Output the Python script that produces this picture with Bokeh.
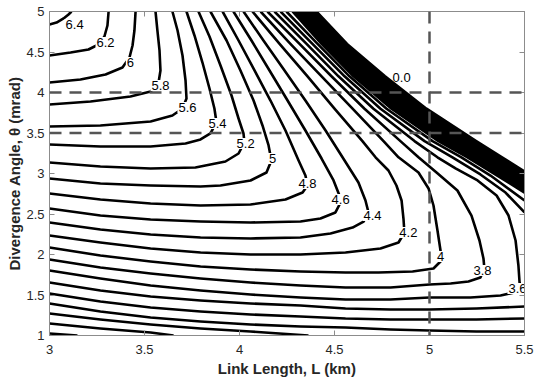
from bokeh.plotting import figure
from bokeh.models import Range1d, FixedTicker, LinearAxis, Span
from bokeh.embed import file_html
from bokeh.resources import INLINE
from bokeh.core.properties import value

# ---------------- data ----------------
x_ticks = [3, 3.5, 4, 4.5, 5, 5.5]
x_tick_labels = ["3", "3.5", "4", "4.5", "5", "5.5"]
y_ticks = [1, 1.5, 2, 2.5, 3, 3.5, 4, 4.5, 5]
y_tick_labels = ["1", "1.5", "2", "2.5", "3", "3.5", "4", "4.5", "5"]

ref_L = [5.0]
ref_theta = [4.0, 3.5]

# contour lines (L in km, theta in mrad)
c64_L = [3.0, 3.037, 3.074, 3.1, 3.116]
c64_T = [4.840, 4.864, 4.914, 4.963, 5.0]
c62_L = [3.0, 3.111, 3.205, 3.258, 3.289, 3.305, 3.311]
c62_T = [4.457, 4.494, 4.531, 4.593, 4.691, 4.827, 5.0]
c60_L = [3.0, 3.163, 3.295, 3.384, 3.421, 3.437, 3.447, 3.453]
c60_T = [4.123, 4.160, 4.222, 4.309, 4.432, 4.580, 4.765, 5.0]
c58_L = [3.0, 3.216, 3.426, 3.532, 3.574, 3.584, 3.579, 3.568, 3.558]
c58_T = [3.852, 3.889, 3.951, 4.012, 4.123, 4.272, 4.519, 4.765, 5.0]
c56_L = [3.0, 3.268, 3.532, 3.647, 3.7, 3.721, 3.716, 3.7, 3.674, 3.647]
c56_T = [3.580, 3.593, 3.642, 3.716, 3.802, 3.926, 4.148, 4.457, 4.765, 5.0]
c54_L = [3.0, 3.268, 3.532, 3.716, 3.795, 3.847, 3.879, 3.868, 3.842, 3.805, 3.763, 3.721]
c54_T = [3.358, 3.333, 3.333, 3.370, 3.420, 3.494, 3.630, 3.802, 4.049, 4.370, 4.704, 5.0]
c52_L = [3.0, 3.268, 3.532, 3.768, 3.926, 3.995, 4.026, 4.021, 3.995, 3.958, 3.9, 3.842, 3.784]
c52_T = [3.136, 3.086, 3.062, 3.074, 3.148, 3.247, 3.383, 3.494, 3.679, 3.963, 4.333, 4.691, 5.0]
c50_L = [3.0, 3.268, 3.532, 3.795, 3.9, 4.058, 4.142, 4.168, 4.153, 4.121, 4.074, 4.005, 3.932, 3.847]
c50_T = [2.938, 2.877, 2.852, 2.840, 2.852, 2.914, 3.012, 3.160, 3.346, 3.593, 3.901, 4.272, 4.642, 5.0]
c48_L = [3.0, 3.268, 3.532, 3.795, 4.058, 4.242, 4.332, 4.358, 4.347, 4.311, 4.242, 4.163, 4.079, 3.995, 3.911]
c48_T = [2.753, 2.679, 2.630, 2.605, 2.617, 2.679, 2.765, 2.852, 2.975, 3.160, 3.531, 3.901, 4.272, 4.642, 5.0]
c46_L = [3.0, 3.268, 3.532, 3.795, 4.058, 4.321, 4.426, 4.505, 4.532, 4.526, 4.495, 4.432, 4.347, 4.253, 4.158, 4.063, 3.968]
c46_T = [2.568, 2.481, 2.432, 2.407, 2.395, 2.407, 2.444, 2.519, 2.642, 2.728, 2.914, 3.185, 3.531, 3.901, 4.272, 4.642, 5.0]
c44_L = [3.0, 3.268, 3.532, 3.795, 4.058, 4.321, 4.479, 4.595, 4.653, 4.679, 4.663, 4.626, 4.553, 4.453, 4.347, 4.237, 4.126, 4.021]
c44_T = [2.395, 2.309, 2.247, 2.210, 2.198, 2.210, 2.259, 2.333, 2.407, 2.519, 2.667, 2.889, 3.160, 3.531, 3.901, 4.272, 4.642, 5.0]
c42_L = [3.0, 3.268, 3.532, 3.795, 4.058, 4.321, 4.558, 4.742, 4.837, 4.868, 4.863, 4.853, 4.826, 4.784, 4.716, 4.647, 4.5, 4.358, 4.211, 4.068]
c42_T = [2.235, 2.148, 2.074, 2.025, 2.0, 2.0, 2.025, 2.074, 2.148, 2.272, 2.444, 2.667, 2.852, 3.037, 3.2, 3.4, 3.8, 4.2, 4.6, 5.0]
c40_L = [3.0, 3.268, 3.532, 3.795, 4.058, 4.321, 4.558, 4.732, 4.911, 5.021, 5.063, 5.058, 5.042, 5.021, 4.995, 4.942, 4.837, 4.758, 4.595, 4.432, 4.268, 4.111]
c40_T = [2.086, 1.988, 1.914, 1.852, 1.815, 1.790, 1.778, 1.778, 1.790, 1.827, 1.926, 2.049, 2.296, 2.605, 2.815, 3.012, 3.2, 3.4, 3.8, 4.2, 4.6, 5.0]
c38_L = [3.0, 3.268, 3.532, 3.795, 4.058, 4.321, 4.558, 4.795, 5.0, 5.111, 5.205, 5.268, 5.289, 5.284, 5.263, 5.221, 5.147, 5.037, 4.942, 4.847, 4.658, 4.484, 4.316, 4.147]
c38_T = [1.938, 1.840, 1.765, 1.704, 1.654, 1.617, 1.593, 1.593, 1.630, 1.642, 1.667, 1.716, 1.827, 1.951, 2.173, 2.481, 2.790, 3.012, 3.2, 3.4, 3.8, 4.2, 4.6, 5.0]
c36_L = [3.0, 3.268, 3.532, 3.795, 4.058, 4.321, 4.558, 4.795, 5.0, 5.216, 5.374, 5.447, 5.479, 5.474, 5.468, 5.453, 5.416, 5.353, 5.253, 5.137, 5.042, 4.921, 4.705, 4.521, 4.353, 4.184]
c36_T = [1.802, 1.704, 1.617, 1.556, 1.506, 1.469, 1.444, 1.444, 1.469, 1.469, 1.494, 1.531, 1.580, 1.654, 1.864, 2.173, 2.481, 2.728, 2.914, 3.062, 3.2, 3.4, 3.8, 4.2, 4.6, 5.0]

lowgrid_L = [3.0, 3.268, 3.532, 3.795, 4.058, 4.321, 4.558, 4.795, 5.0, 5.247, 5.5]
c34lo_T = [1.654, 1.556, 1.481, 1.432, 1.395, 1.370, 1.333, 1.321, 1.321, 1.333, 1.358]
c32lo_T = [1.519, 1.420, 1.346, 1.296, 1.259, 1.235, 1.210, 1.198, 1.198, 1.198, 1.210]
c30lo_T = [1.395, 1.296, 1.222, 1.173, 1.136, 1.111, 1.099, 1.074, 1.062, 1.049, 1.049]
c28lo_L = [3.0, 3.268, 3.532, 3.795, 4.058, 4.363]
c28lo_T = [1.272, 1.198, 1.136, 1.086, 1.049, 1.0]
c26lo_L = [3.0, 3.268, 3.532, 3.653]
c26lo_T = [1.148, 1.086, 1.037, 1.0]
c24lo_L = [3.0, 3.147]
c24lo_T = [1.025, 1.0]

c34up_L = [4.216, 4.384, 4.553, 4.742, 4.974, 5.121, 5.268, 5.4, 5.5]
c34up_T = [5.0, 4.6, 4.2, 3.8, 3.4, 3.2, 2.988, 2.765, 2.519]
c32up_L = [4.247, 4.411, 4.579, 4.774, 5.016, 5.168, 5.321, 5.5]
c32up_T = [5.0, 4.6, 4.2, 3.8, 3.4, 3.2, 2.975, 2.667]

# dense band of upper branches (levels 3.0 down to 0.0)
b30_L = [4.279, 4.432, 4.600, 4.800, 5.047, 5.200, 5.5]
b30_T = [5.0, 4.6, 4.2, 3.8, 3.4, 3.2, 2.765]
b28_L = [4.287, 4.441, 4.611, 4.812, 5.060, 5.212, 5.5]
b28_T = [5.0, 4.6, 4.2, 3.8, 3.4, 3.2, 2.783]
b26_L = [4.296, 4.450, 4.623, 4.825, 5.074, 5.225, 5.5]
b26_T = [5.0, 4.6, 4.2, 3.8, 3.4, 3.2, 2.801]
b24_L = [4.305, 4.459, 4.634, 4.838, 5.088, 5.238, 5.5]
b24_T = [5.0, 4.6, 4.2, 3.8, 3.4, 3.2, 2.819]
b22_L = [4.314, 4.469, 4.647, 4.851, 5.103, 5.251, 5.5]
b22_T = [5.0, 4.6, 4.2, 3.8, 3.4, 3.2, 2.838]
b20_L = [4.324, 4.479, 4.659, 4.865, 5.118, 5.265, 5.5]
b20_T = [5.0, 4.6, 4.2, 3.8, 3.4, 3.2, 2.858]
b18_L = [4.333, 4.490, 4.672, 4.879, 5.133, 5.279, 5.5]
b18_T = [5.0, 4.6, 4.2, 3.8, 3.4, 3.2, 2.877]
b16_L = [4.342, 4.499, 4.683, 4.892, 5.147, 5.291, 5.5]
b16_T = [5.0, 4.6, 4.2, 3.8, 3.4, 3.2, 2.895]
b14_L = [4.351, 4.508, 4.695, 4.905, 5.161, 5.304, 5.5]
b14_T = [5.0, 4.6, 4.2, 3.8, 3.4, 3.2, 2.914]
b12_L = [4.360, 4.518, 4.706, 4.918, 5.174, 5.317, 5.5]
b12_T = [5.0, 4.6, 4.2, 3.8, 3.4, 3.2, 2.932]
b10_L = [4.368, 4.526, 4.717, 4.930, 5.187, 5.328, 5.5]
b10_T = [5.0, 4.6, 4.2, 3.8, 3.4, 3.2, 2.949]
b08_L = [4.376, 4.535, 4.728, 4.942, 5.200, 5.340, 5.5]
b08_T = [5.0, 4.6, 4.2, 3.8, 3.4, 3.2, 2.965]
b06_L = [4.384, 4.543, 4.738, 4.953, 5.212, 5.351, 5.5]
b06_T = [5.0, 4.6, 4.2, 3.8, 3.4, 3.2, 2.981]
b04_L = [4.391, 4.551, 4.748, 4.964, 5.224, 5.362, 5.5]
b04_T = [5.0, 4.6, 4.2, 3.8, 3.4, 3.2, 2.996]
b02_L = [4.399, 4.559, 4.758, 4.975, 5.236, 5.373, 5.5]
b02_T = [5.0, 4.6, 4.2, 3.8, 3.4, 3.2, 3.012]
b00_L = [4.405, 4.566, 4.766, 4.984, 5.246, 5.382, 5.5]
b00_T = [5.0, 4.6, 4.2, 3.8, 3.4, 3.2, 3.025]

# contour labels
lab_text = ["6.4", "6.2", "6", "5.8", "5.6", "5.4", "5.2", "5", "4.8", "4.6",
            "4.4", "4.2", "4", "3.8", "3.6"]
lab_L = [3.132, 3.295, 3.426, 3.584, 3.726, 3.884, 4.032, 4.174, 4.358, 4.532,
         4.700, 4.889, 5.058, 5.279, 5.463]
lab_T = [4.840, 4.617, 4.370, 4.086, 3.815, 3.617, 3.370, 3.185, 2.877, 2.679,
         2.481, 2.272, 1.975, 1.802, 1.580]
zero_text = ["0.0"]
zero_L = [4.853]
zero_T = [4.185]

# ---------------- figure ----------------
GRAY = "#8c8c8c"
FONT = "Liberation Sans"

p = figure(width=535, height=379, x_range=Range1d(3, 5.5), y_range=Range1d(1, 5),
           output_backend="svg", toolbar_location=None,
           min_border_left=49, min_border_right=11, min_border_top=11, min_border_bottom=44,
           x_axis_label="Link Length, L (km)", y_axis_label="Divergence Angle, θ (mrad)")
p.xgrid.visible = False
p.ygrid.visible = False
p.outline_line_color = GRAY
p.background_fill_color = "white"
p.border_fill_color = "white"

lines = [
    (c64_L, c64_T), (c62_L, c62_T), (c60_L, c60_T), (c58_L, c58_T), (c56_L, c56_T),
    (c54_L, c54_T), (c52_L, c52_T), (c50_L, c50_T), (c48_L, c48_T), (c46_L, c46_T),
    (c44_L, c44_T), (c42_L, c42_T), (c40_L, c40_T), (c38_L, c38_T), (c36_L, c36_T),
    (lowgrid_L, c34lo_T), (lowgrid_L, c32lo_T), (lowgrid_L, c30lo_T),
    (c28lo_L, c28lo_T), (c26lo_L, c26lo_T), (c24lo_L, c24lo_T),
    (c34up_L, c34up_T), (c32up_L, c32up_T),
    (b30_L, b30_T), (b28_L, b28_T), (b26_L, b26_T), (b24_L, b24_T), (b22_L, b22_T),
    (b20_L, b20_T), (b18_L, b18_T), (b16_L, b16_T), (b14_L, b14_T), (b12_L, b12_T),
    (b10_L, b10_T), (b08_L, b08_T), (b06_L, b06_T), (b04_L, b04_T), (b02_L, b02_T),
    (b00_L, b00_T),
]
p.multi_line(xs=[l for l, t in lines], ys=[t for l, t in lines],
             line_color="black", line_width=2.6, line_join="round")

p.text(x=lab_L, y=lab_T, text=lab_text, text_font=value(FONT), text_font_size="13px",
       text_color="black", text_align="center", text_baseline="middle",
       background_fill_color="white", padding=1)
p.text(x=zero_L, y=zero_T, text=zero_text, text_font=value(FONT), text_font_size="13px",
       text_color="black", text_align="center", text_baseline="middle")

for v in ref_L:
    p.add_layout(Span(location=v, dimension="height", line_color="#555555",
                      line_width=2.5, line_dash="12 8"))
for v in ref_theta:
    p.add_layout(Span(location=v, dimension="width", line_color="#555555",
                      line_width=2.5, line_dash="12 8"))

# axes
p.xaxis.ticker = FixedTicker(ticks=x_ticks)
p.xaxis.major_label_overrides = dict(zip(x_ticks, x_tick_labels))
p.yaxis.ticker = FixedTicker(ticks=y_ticks)
p.yaxis.major_label_overrides = dict(zip(y_ticks, y_tick_labels))
for ax in (p.xaxis[0], p.yaxis[0]):
    ax.major_tick_in = 5
    ax.major_tick_out = 0
    ax.minor_tick_line_color = None
    ax.axis_line_color = GRAY
    ax.major_tick_line_color = GRAY
    ax.major_label_text_font = FONT
    ax.major_label_text_font_size = "13px"
    ax.major_label_text_color = "#262626"
    ax.axis_label_text_font = FONT
    ax.axis_label_text_font_size = "15px"
    ax.axis_label_text_font_style = "bold"
    ax.axis_label_text_color = "#262626"
p.xaxis.major_label_standoff = 9
p.xaxis.axis_label_standoff = 3
p.yaxis.major_label_standoff = 5
p.yaxis.axis_label_standoff = 0

top_ax = LinearAxis(ticker=FixedTicker(ticks=x_ticks), major_label_text_font_size="0px",
                    major_label_text_alpha=0, major_label_standoff=0,
                    major_tick_in=5, major_tick_out=0, minor_tick_line_color=None,
                    axis_line_color=GRAY, major_tick_line_color=GRAY)
right_ax = LinearAxis(ticker=FixedTicker(ticks=y_ticks), major_label_text_font_size="0px",
                      major_label_text_alpha=0, major_label_standoff=0,
                      major_tick_in=5, major_tick_out=0, minor_tick_line_color=None,
                      axis_line_color=GRAY, major_tick_line_color=GRAY)
p.add_layout(top_ax, "above")
p.add_layout(right_ax, "right")

open("out.html", "w").write(file_html(p, INLINE))
